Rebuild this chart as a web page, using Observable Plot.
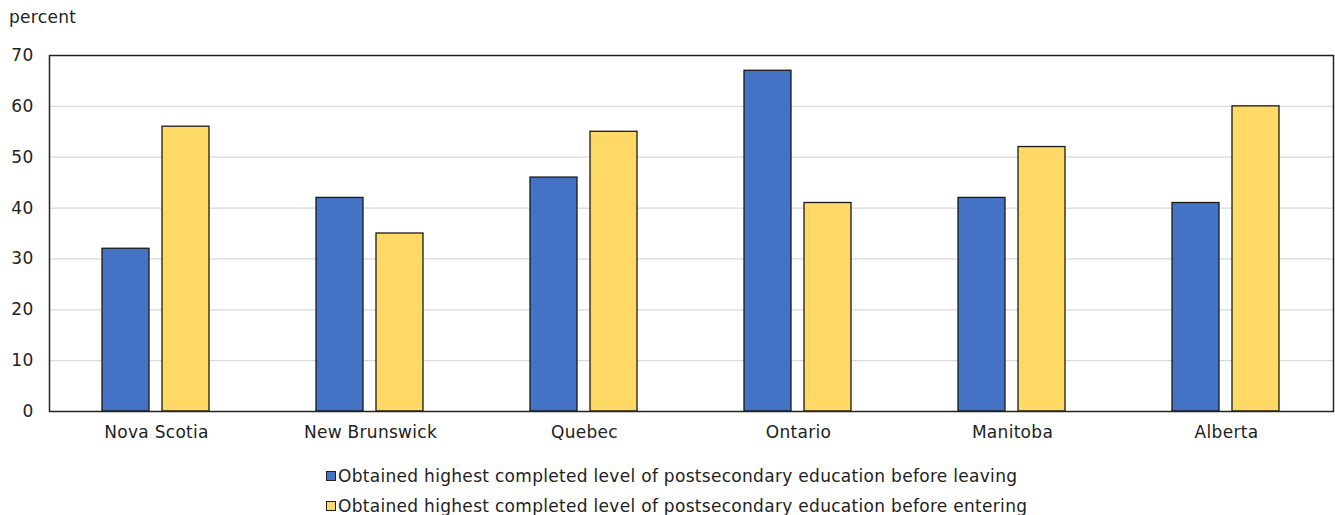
<!DOCTYPE html>
<html><head><meta charset="utf-8">
<script src="https://cdn.jsdelivr.net/npm/d3@7"></script>
<script src="https://cdn.jsdelivr.net/npm/@observablehq/plot@0.6"></script>
<style>
body{margin:0;background:#fff;font-family:"DejaVu Sans",Verdana,sans-serif;}
#wrap{position:relative;width:1335px;height:515px;overflow:hidden;}
#unit{position:absolute;left:9px;top:7px;font-size:17px;color:#222;letter-spacing:0.3px;}
#chart{position:absolute;left:0;top:0;}
#chart svg text{letter-spacing:0.3px;}
#legend{position:absolute;top:461px;left:326px;font-size:17px;color:#222;line-height:30px;white-space:nowrap;letter-spacing:0.3px;}
.sw{display:inline-block;width:8px;height:8px;border:1.5px solid #222;margin-right:2px;vertical-align:1px;}
</style></head>
<body><div id="wrap"><div id="chart"></div><div id="unit">percent</div><div id="legend"></div></div>
<script>
const provinces = ["Nova Scotia","New Brunswick","Quebec","Ontario","Manitoba","Alberta"];
const seriesNames = [
  "Obtained highest completed level of postsecondary education before leaving",
  "Obtained highest completed level of postsecondary education before entering"
];
const leaving = [32, 42, 46, 67, 42, 41];
const entering = [56, 35, 55, 41, 52, 60];
const colors = ["#4472C4", "#FFD966"];
const yTicks = [0, 10, 20, 30, 40, 50, 60, 70];

const data = [];
provinces.forEach((p, i) => {
  data.push({province: p, series: seriesNames[0], value: leaving[i]});
  data.push({province: p, series: seriesNames[1], value: entering[i]});
});

const chart = Plot.plot({
  width: 1335,
  height: 455,
  marginLeft: 48,
  marginRight: 2,
  marginTop: 55,
  marginBottom: 44,
  style: {fontSize: "17px", fontFamily: "DejaVu Sans, Verdana, sans-serif", color: "#222", background: "#fff"},
  fx: {domain: provinces, padding: 0, label: null, tickSize: 0, tickPadding: 14},
  x: {domain: seriesNames, paddingInner: 0.21, paddingOuter: 0.86, axis: null},
  y: {domain: [0, 70], ticks: yTicks, label: null, tickSize: 0, tickPadding: 16},
  color: {domain: seriesNames, range: colors},
  marks: [
    Plot.ruleY(yTicks.slice(1, -1), {stroke: "#d9d9d9", strokeWidth: 1.3}),
    Plot.barY(data, {fx: "province", x: "series", y: "value", fill: "series", stroke: "#1a1a1a", strokeWidth: 1.3}),
    Plot.frame({facet: "super", stroke: "#222", strokeWidth: 1.5})
  ]
});
document.getElementById("chart").appendChild(chart);

const legend = document.getElementById("legend");
seriesNames.forEach((s, i) => {
  const row = document.createElement("div");
  const sw = document.createElement("span");
  sw.className = "sw";
  sw.style.background = colors[i];
  row.appendChild(sw);
  row.appendChild(document.createTextNode(s));
  legend.appendChild(row);
});
</script>
</body></html>
